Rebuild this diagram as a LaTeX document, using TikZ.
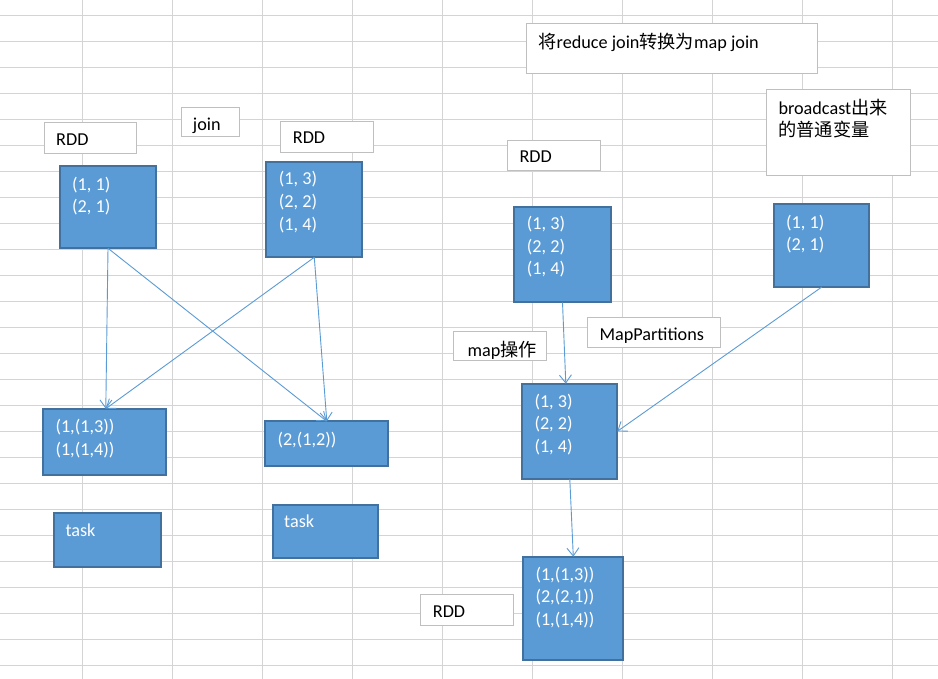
\documentclass[tikz,border=0pt]{standalone}
\usepackage{fontspec}
\setmainfont{Carlito}
\newfontfamily\cjk{Noto Sans CJK SC}
\usetikzlibrary{arrows.meta}
\definecolor{gridc}{HTML}{D4D4D4}
\definecolor{bluef}{HTML}{5B9BD5}
\definecolor{blued}{HTML}{41719C}
\definecolor{wbord}{HTML}{BFBFBF}
\begin{document}
\begin{tikzpicture}[x=1pt,y=-1pt,
  bbox/.style={draw=blued, line width=2pt, fill=bluef, anchor=north west, inner sep=0pt, outer sep=0pt},
  wbox/.style={draw=wbord, line width=1pt, fill=white, anchor=north west, inner sep=0pt, outer sep=0pt},
  wt/.style={text=white, anchor=base west, inner sep=0pt, align=left, font=\fontsize{18.2}{22.7}\selectfont},
  kt/.style={text=black, anchor=base west, inner sep=0pt, align=left, font=\fontsize{18.2}{22.7}\selectfont},
  arr/.style={draw=bluef, line width=0.9pt, -{Straight Barb[length=8pt,width=12pt,line width=0.9pt]}}]
\useasboundingbox (0,0) rectangle (938,679);
\fill[white] (0,0) rectangle (938,679);
% grid
\foreach \i in {0,...,9} \draw[gridc, line width=1pt] (82.5+90*\i,0) -- (82.5+90*\i,679);
\foreach \j in {0,...,25} \draw[gridc, line width=1pt] (0,15.3+26*\j) -- (938,15.3+26*\j);

% white label boxes (text nodes: anchor at the baseline of the LAST line)
\node[wbox, minimum width=92pt, minimum height=31pt] (rdd1) at (44.8,122.8) {};
\node[kt] (rdd1t) at (56,145.3) {RDD};
\node[wbox, minimum width=58pt, minimum height=29pt] (join) at (181.8,107.8) {};
\node[kt] (joint) at (192.7,130.7) {join};
\node[wbox, minimum width=93pt, minimum height=31pt] (rdd2) at (280.8,121.8) {};
\node[kt] (rdd2t) at (292.7,144) {RDD};
\node[wbox, minimum width=291pt, minimum height=49.7pt] (title) at (526.8,23.8) {};
\node[kt] (titlet) at (538.3,49) {{\cjk 将}reduce join{\cjk 转换为}map join};
\node[wbox, minimum width=144pt, minimum height=85.7pt] (bc) at (766.8,89.8) {};
\node[kt] (bct) at (778.3,137) {broadcast{\cjk 出来}\\{\cjk 的普通变量}};
\node[wbox, minimum width=93pt, minimum height=29.7pt] (rdd3) at (507.8,140.8) {};
\node[kt] (rdd3t) at (519.3,162.7) {RDD};
\node[wbox, minimum width=133pt, minimum height=29.7pt] (mp) at (587.8,317.8) {};
\node[kt] (mpt) at (599.3,340.5) {MapPartitions};
\node[wbox, minimum width=93pt, minimum height=29pt] (mapop) at (453.8,331.8) {};
\node[kt] (mapopt) at (467.3,356) {map{\cjk 操作}};
\node[wbox, minimum width=93pt, minimum height=30.4pt] (rdd4) at (420.8,594.8) {};
\node[kt] (rdd4t) at (432.7,617) {RDD};

% blue boxes
\node[bbox, minimum width=95.4pt, minimum height=82pt] (b1) at (60.3,166.3) {};
\node[wt] (b1t) at (72,213) {(1, 1)\\(2, 1)};
\node[bbox, minimum width=96pt, minimum height=95.6pt] (b2) at (266.3,161.7) {};
\node[wt] (b2t) at (278.7,230.4) {(1, 3)\\(2, 2)\\(1, 4)};
\node[bbox, minimum width=96.4pt, minimum height=95.6pt] (b3) at (514.3,206.7) {};
\node[wt] (b3t) at (526.7,275) {(1, 3)\\(2, 2)\\(1, 4)};
\node[bbox, minimum width=95pt, minimum height=82.7pt] (b4) at (774.3,204.3) {};
\node[wt] (b4t) at (786,251) {(1, 1)\\(2, 1)};
\node[bbox, minimum width=123pt, minimum height=66.3pt] (b5) at (43.3,408.7) {};
\node[wt] (b5t) at (55.3,455) {(1,(1,3))\\(1,(1,4))};
\node[bbox, minimum width=123pt, minimum height=44.7pt] (b6) at (265.3,421.3) {};
\node[wt] (b6t) at (277.3,445) {(2,(1,2))};
\node[bbox, minimum width=106.4pt, minimum height=54pt] (task1) at (54.3,513.3) {};
\node[wt] (task1t) at (65.3,536.7) {task};
\node[bbox, minimum width=105.6pt, minimum height=53.6pt] (task2) at (272.7,504.7) {};
\node[wt] (task2t) at (284,527.7) {task};
\node[bbox, minimum width=95pt, minimum height=95.3pt] (b7) at (522.3,383.7) {};
\node[wt] (b7t) at (534.3,452.4) {(1, 3)\\(2, 2)\\(1, 4)};
\node[bbox, minimum width=100pt, minimum height=103.3pt] (b8) at (523.3,556.7) {};
\node[wt] (b8t) at (535.3,625.4) {(1,(1,3))\\(2,(2,1))\\(1,(1,4))};

% connectors
\draw[arr] (b1.south) -- ([xshift=1pt]b5.north);
\draw[arr] (b1.south) -- (b6.north);
\draw[arr] (b2.south) -- ([xshift=1pt]b5.north);
\draw[arr] (b2.south) -- (b6.north);
\draw[arr] (b3.south) -- ([xshift=-4pt]b7.north);
\draw[arr] (b4.south) -- (b7.east);
\draw[arr] (b7.south) -- (b8.north);
\end{tikzpicture}
\end{document}
